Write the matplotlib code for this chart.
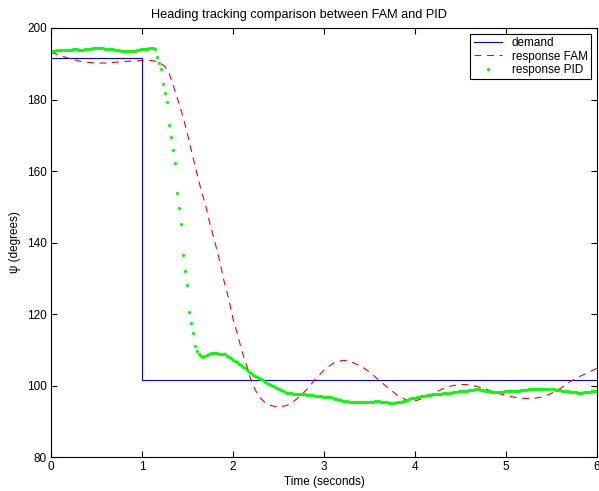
import numpy as np
import matplotlib
matplotlib.use('Agg')
import matplotlib.pyplot as plt

plt.rcParams['font.family'] = ['Liberation Sans', 'DejaVu Sans']
plt.rcParams['lines.scale_dashes'] = False

# demand (step at t = 1 s)
demand_t = [0.0, 1.0, 1.0, 6.0]
demand_psi = [191.5, 191.5, 101.5, 101.5]

# FAM response
fam_t = [0.0, 0.1, 0.2, 0.3, 0.4, 0.5, 0.6, 0.7, 0.8, 0.9, 1.0, 1.1, 1.15, 1.2, 1.25,
         1.3, 1.35, 1.4, 1.45, 1.5, 1.55, 1.6, 1.65, 1.7, 1.75, 1.8, 1.85, 1.9, 1.95,
         2.0, 2.05, 2.1, 2.15, 2.2, 2.25, 2.3, 2.35, 2.4, 2.5, 2.6, 2.7, 2.8, 2.9,
         3.0, 3.1, 3.2, 3.25, 3.3, 3.4, 3.5, 3.6, 3.7, 3.8, 3.9, 4.0, 4.1, 4.2, 4.3,
         4.4, 4.5, 4.6, 4.7, 4.8, 4.9, 5.0, 5.1, 5.2, 5.3, 5.4, 5.5, 5.6, 5.7, 5.8,
         5.9, 6.0]
fam_psi = [193.2, 192.3, 191.5, 190.8, 190.4, 190.2, 190.2, 190.4, 190.6, 190.8, 190.9,
           190.9, 190.7, 190.2, 189.3, 187.2, 183.4, 179.4, 175.2, 170.3, 164.9, 159.7,
           154.6, 150.3, 144.9, 140.2, 135.2, 129.4, 124.5, 118.7, 114.3, 109.4, 105.6,
           101.3, 98.5, 96.5, 95.3, 94.5, 93.9, 94.5, 96.2, 98.6, 101.6, 104.3, 106.2,
           107.0, 107.0, 106.6, 105.5, 103.8, 101.6, 99.4, 97.4, 96.0, 95.7, 96.5, 97.8,
           99.0, 99.9, 100.3, 100.2, 99.6, 98.8, 97.9, 97.2, 96.7, 96.4, 96.4, 96.8,
           97.8, 99.2, 101.0, 102.4, 103.6, 104.8]

# PID response, sampled every 0.022 s
pid_dt = 0.022
pid_psi = [
    193.5, 193.6, 193.7, 193.8, 193.9, 193.9, 193.9, 193.9, 193.9, 193.9,
    193.9, 194.0, 194.0, 194.0, 193.9, 193.9, 193.9, 194.0, 194.0, 194.1,
    194.2, 194.3, 194.4, 194.4, 194.4, 194.4, 194.3, 194.2, 194.1, 194.1,
    194.0, 194.0, 193.9, 193.8, 193.8, 193.7, 193.7, 193.6, 193.6, 193.6,
    193.6, 193.7, 193.7, 193.8, 193.9, 194.0, 194.0, 194.1, 194.2, 194.3,
    194.4, 194.4, 194.0, 191.8, 190.3, 188.5, 184.4, 181.9, 179.2, 173.0,
    169.5, 166.0, 162.2, 153.9, 149.6, 145.1, 136.4, 132.1, 128.1, 120.5,
    117.4, 114.7, 111.0, 109.7, 108.8, 108.3, 108.1, 108.3, 108.6, 108.8,
    109.0, 109.0, 109.0, 109.0, 108.9, 108.9, 108.8, 108.7, 108.3, 107.9,
    107.6, 107.2, 106.9, 106.5, 106.1, 105.7, 105.3, 104.8, 104.3, 103.8,
    103.4, 103.0, 102.7, 102.4, 102.0, 101.7, 101.4, 101.0, 100.7, 100.4,
    100.1, 99.8, 99.5, 99.2, 98.9, 98.7, 98.4, 98.2, 98.0, 97.9,
    97.8, 97.7, 97.6, 97.6, 97.5, 97.5, 97.5, 97.5, 97.4, 97.4,
    97.3, 97.3, 97.2, 97.1, 97.1, 97.0, 96.9, 96.9, 96.8, 96.8,
    96.7, 96.5, 96.3, 96.1, 96.0, 95.9, 95.8, 95.7, 95.6, 95.5,
    95.5, 95.4, 95.4, 95.4, 95.3, 95.3, 95.3, 95.4, 95.4, 95.5,
    95.5, 95.5, 95.6, 95.6, 95.6, 95.5, 95.5, 95.4, 95.3, 95.2,
    95.2, 95.2, 95.2, 95.3, 95.4, 95.5, 95.6, 95.8, 96.0, 96.2,
    96.4, 96.5, 96.6, 96.8, 96.9, 97.0, 97.1, 97.2, 97.3, 97.4,
    97.4, 97.5, 97.6, 97.6, 97.7, 97.7, 97.8, 97.8, 97.9, 97.9,
    98.0, 98.1, 98.2, 98.3, 98.4, 98.5, 98.5, 98.6, 98.6, 98.7,
    98.8, 98.8, 98.9, 98.9, 98.9, 98.8, 98.7, 98.6, 98.5, 98.4,
    98.3, 98.2, 98.2, 98.2, 98.2, 98.3, 98.3, 98.4, 98.4, 98.4,
    98.4, 98.4, 98.5, 98.5, 98.6, 98.7, 98.7, 98.8, 98.8, 98.9,
    98.9, 99.0, 99.0, 99.0, 99.0, 99.0, 99.0, 99.0, 99.0, 98.9,
    98.9, 98.9, 98.8, 98.8, 98.7, 98.6, 98.5, 98.4, 98.4, 98.3,
    98.2, 98.1, 98.1, 98.0, 98.0, 98.0, 98.1, 98.2, 98.2, 98.3,
    98.4, 98.5, 98.5,
]
pid_t = np.arange(len(pid_psi)) * pid_dt

fig = plt.figure(figsize=(5.99, 4.91), dpi=100)
ax = fig.add_axes([51 / 599, 1 - 457 / 491, 546 / 599, 429 / 491])

ax.plot(demand_t, demand_psi, color='blue', lw=0.8, label='demand')
ax.plot(fam_t, fam_psi, color='red', lw=0.8, linestyle=(0, (5, 4)), label='response FAM')
ax.plot(pid_t, pid_psi, linestyle='none', marker='o', ms=2.3, mew=0, color='#00ff00',
        label='response PID')

ax.set_xlim(0, 6)
ax.set_ylim(80, 200)
ax.set_xticks(range(7))
ax.set_yticks(range(80, 201, 20))
ax.tick_params(direction='in', length=4, width=0.8, top=True, right=True, labelsize=8.5, pad=3)
for s in ax.spines.values():
    s.set_linewidth(0.8)

ax.set_xlabel('Time (seconds)', fontsize=8.5, labelpad=2)
ax.set_ylabel('ψ (degrees)', fontsize=8.5, labelpad=4)
ax.set_title('Heading tracking comparison between FAM and PID', fontsize=9.2, pad=7, x=0.455)

leg = ax.legend(loc='upper right', fontsize=8.5, numpoints=1, fancybox=False,
                edgecolor='black', framealpha=1, borderpad=0.3, labelspacing=0.1,
                handlelength=2.4, handletextpad=0.8, borderaxespad=0.5)
leg.get_frame().set_linewidth(0.8)

plt.savefig('out.png', dpi=100)
